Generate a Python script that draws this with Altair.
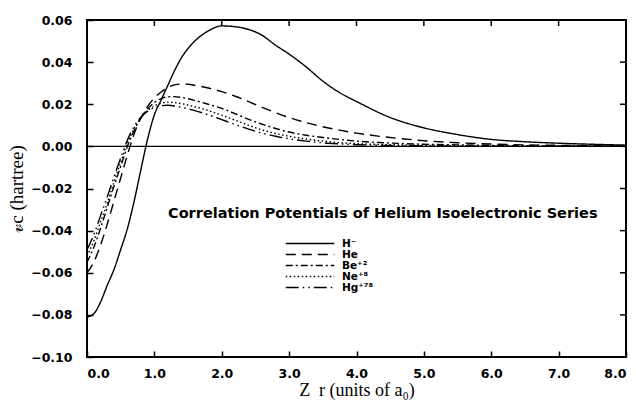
import altair as alt
import pandas as pd

# ---- data ----
r = [0.0, 0.1, 0.2, 0.3, 0.4, 0.5, 0.6, 0.7, 0.8, 0.9, 1.0, 1.1, 1.2, 1.3, 1.4, 1.5,
     1.6, 1.8, 2.0, 2.2, 2.4, 2.6, 2.8, 3.0, 3.25, 3.5, 3.75, 4.0, 4.5, 5.0, 5.5, 6.0,
     6.5, 7.0, 7.5, 8.0]

h_minus = [-0.081, -0.0795, -0.074, -0.066, -0.0585, -0.049, -0.039, -0.026, -0.011, 0.0035,
           0.015, 0.022, 0.029, 0.036, 0.042, 0.0465, 0.050, 0.0548, 0.0572, 0.0568, 0.0555,
           0.0527, 0.048, 0.0438, 0.0378, 0.031, 0.0255, 0.0213, 0.0137, 0.0088, 0.0056,
           0.0033, 0.0022, 0.0015, 0.0010, 0.0006]
he = [-0.060, -0.055, -0.047, -0.037, -0.026, -0.015, -0.004, 0.006, 0.0135, 0.019,
      0.023, 0.0258, 0.028, 0.0292, 0.0296, 0.0295, 0.029, 0.0277, 0.026, 0.0238, 0.0212,
      0.0185, 0.016, 0.0137, 0.0113, 0.0093, 0.0077, 0.0063, 0.0042, 0.0027, 0.0017,
      0.0011, 0.0007, 0.0005, 0.0003, 0.0002]
be = [-0.055, -0.048, -0.039, -0.029, -0.019, -0.0095, 0.0, 0.0075, 0.0135, 0.0178,
      0.0208, 0.0227, 0.0235, 0.0236, 0.0232, 0.0226, 0.0218, 0.0200, 0.0180, 0.0155, 0.0128,
      0.0105, 0.0085, 0.0068, 0.0053, 0.0042, 0.0033, 0.0025, 0.0016, 0.0010, 0.0007,
      0.0005, 0.0003, 0.0002, 0.0001, 0.0001]
ne = [-0.052, -0.045, -0.036, -0.027, -0.017, -0.0075, 0.0015, 0.0085, 0.0135, 0.0170,
      0.0192, 0.0205, 0.0210, 0.0208, 0.0203, 0.0196, 0.0188, 0.0170, 0.0148, 0.0124, 0.0100,
      0.0078, 0.0061, 0.0048, 0.0035, 0.0025, 0.0018, 0.0013, 0.0008, 0.0005, 0.0003,
      0.0002, 0.0001, 0.0001, 0.0, 0.0]
hg = [-0.049, -0.042, -0.033, -0.024, -0.0145, -0.0055, 0.003, 0.0095, 0.0138, 0.0167,
      0.0184, 0.0193, 0.0195, 0.0192, 0.0186, 0.0178, 0.0170, 0.0150, 0.0127, 0.0104, 0.0082,
      0.0063, 0.0048, 0.0036, 0.0025, 0.0017, 0.0012, 0.0008, 0.0004, 0.0002, 0.0001,
      0.0001, 0.0, 0.0, 0.0, 0.0]

series_names = ["H⁻", "He", "Be⁺²", "Ne⁺⁸", "Hg⁺⁷⁸"]
series_values = [h_minus, he, be, ne, hg]
dashes = [[1, 0], [10, 6], [7, 3, 2, 3], [1.5, 2.5], [13, 4, 1.5, 4, 1.5, 4]]

x_ticks = [0, 1, 2, 3, 4, 5, 6, 7, 8]
y_ticks = [-0.10, -0.08, -0.06, -0.04, -0.02, 0.00, 0.02, 0.04, 0.06]
x_range = [0, 8]
y_range = [-0.10, 0.06]

annotation = "Correlation Potentials of Helium Isoelectronic Series"
x_title = "Z\u00a0\u00a0r (units of a₀)"
y_title = "𝓋c (hartree)"

W, H = 539, 337
TICK = 6
LABEL_FONT = "DejaVu Sans"
SERIF = "Liberation Serif"
INK = "black"

rows = []
for name, vals in zip(series_names, series_values):
    for rr, vv in zip(r, vals):
        rows.append({"r": rr, "v": vv, "series": name})
df = pd.DataFrame(rows)

xscale = alt.Scale(domain=x_range, nice=False, zero=False)
yscale = alt.Scale(domain=y_range, nice=False, zero=False)

# bottom/left axes are pulled TICK px into the plot so that their ticks point inward
lines = alt.Chart(df).mark_line(color=INK, strokeWidth=1.4, interpolate="monotone").encode(
    x=alt.X("r:Q", scale=xscale,
            axis=alt.Axis(values=x_ticks, format=".1f", title=x_title,
                          offset=-TICK, tickSize=TICK, tickWidth=1.5, tickColor=INK,
                          domain=False, labelFont=LABEL_FONT, labelFontWeight="bold",
                          labelFontSize=12.5, labelColor=INK, labelPadding=10, grid=False,
                          titleFont=SERIF, titleFontSize=18, titleFontWeight="normal",
                          titleColor=INK, titlePadding=2)),
    y=alt.Y("v:Q", scale=yscale,
            axis=alt.Axis(values=y_ticks, format=".2f", title=y_title,
                          offset=-TICK, tickSize=TICK, tickWidth=1.5, tickColor=INK,
                          domain=False, labelFont=LABEL_FONT, labelFontWeight="bold",
                          labelFontSize=12.5, labelColor=INK, labelPadding=15, grid=False,
                          titleFont=SERIF, titleFontSize=19, titleFontWeight="normal",
                          titleColor=INK, titlePadding=4)),
    strokeDash=alt.StrokeDash("series:N",
                              scale=alt.Scale(domain=series_names, range=dashes),
                              sort=series_names,
                              legend=alt.Legend(title=None, orient="none", legendX=198,
                                                legendY=218, symbolType="stroke",
                                                symbolSize=2350, symbolStrokeWidth=1.3,
                                                symbolStrokeColor=INK, clipHeight=11,
                                                rowPadding=0, labelOffset=7,
                                                labelFont=LABEL_FONT, labelFontWeight="bold",
                                                labelFontSize=10.5, labelColor=INK,
                                                padding=0)),
)

zero = alt.Chart(pd.DataFrame({"z": [0.0]})).mark_rule(color=INK, strokeWidth=1.3).encode(
    y=alt.Y("z:Q", scale=yscale)
)

frame = alt.Chart(pd.DataFrame({"x0": [x_range[0]], "x1": [x_range[1]],
                                "y0": [y_range[0]], "y1": [y_range[1]]})).mark_rect(
    fillOpacity=0, fill="white", stroke=INK, strokeWidth=2).encode(
    x=alt.X("x0:Q", scale=xscale), x2="x1:Q",
    y=alt.Y("y0:Q", scale=yscale), y2="y1:Q")

# inward ticks on the top and right edges, positioned by the shared scales
top_ticks = alt.Chart(pd.DataFrame({"tx": x_ticks})).mark_rule(
    color=INK, strokeWidth=1.5, orient="vertical").encode(
    x=alt.X("tx:Q", scale=xscale), y=alt.value(0), y2=alt.value(TICK))
right_ticks = alt.Chart(pd.DataFrame({"ty": y_ticks})).mark_rule(
    color=INK, strokeWidth=1.5, orient="horizontal").encode(
    y=alt.Y("ty:Q", scale=yscale), x=alt.value(W - TICK), x2=alt.value(W))

note = alt.Chart(pd.DataFrame({"label": [annotation]})).mark_text(
    font=LABEL_FONT, fontWeight="bold", fontSize=14.5, color=INK,
    align="left", baseline="middle").encode(
    text="label:N", x=alt.value(81), y=alt.value(194))

chart = alt.layer(frame, lines, zero, top_ticks, right_ticks, note).properties(
    width=W, height=H,
    padding={"left": 87, "top": 20, "right": 10, "bottom": 45},
    autosize=alt.AutoSizeParams(type="none"),
).configure_view(stroke=INK, strokeWidth=2)

chart.save("out.html", embed_options={"renderer": "svg", "actions": False})
